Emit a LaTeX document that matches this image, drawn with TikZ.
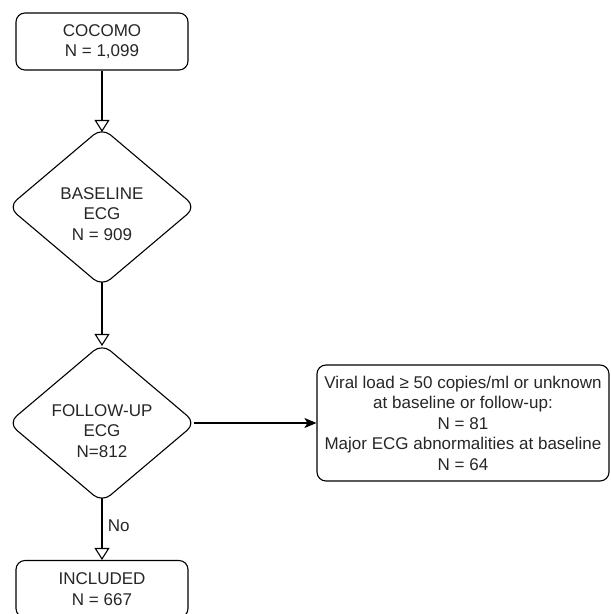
\documentclass[tikz,border=0pt]{standalone}
\usepackage{fontspec}
\setmainfont{Liberation Sans}
\usetikzlibrary{shapes.geometric,arrows.meta}
\begin{document}
\begin{tikzpicture}[x=1pt,y=-1pt,
  every node/.style={font=\fontsize{17}{20.5}\selectfont, text=black!85},
  rbox/.style={draw, line width=1.1pt, rounded corners=9pt, align=center, inner sep=0pt},
  dec/.style={draw, diamond, line width=1.1pt, rounded corners=11pt, inner sep=0pt, minimum width=188pt, minimum height=159pt},
  dectext/.style={align=center, inner sep=0pt},
  openarr/.style={line width=1.1pt, -{Triangle[open, length=12pt, width=15pt, line width=1.1pt]}},
  fillarr/.style={line width=1.1pt, -{Stealth[length=12pt, width=10pt, inset=3pt]}}]
\useasboundingbox (0,0) rectangle (611,614);
\clip (0,0) rectangle (611,614);
\node[rbox, minimum width=172pt, minimum height=57pt] (cocomo) at (102,41.5) {COCOMO\\N = 1,099};
\node[dec] (base) at (102,207) {};
\node[dectext] (basetext) at (102,214) {BASELINE\\ECG\\N = 909};
\node[dec] (follow) at (102,423) {};
\node[dectext] (followtext) at (102,431) {FOLLOW-UP\\ECG\\N=812};
\node[rbox, minimum width=292pt, minimum height=116pt] (excl) at (463,423) {Viral load ≥ 50 copies/ml or unknown\\at baseline or follow-up:\\N = 81\\Major ECG abnormalities at baseline\\N = 64};
\node[rbox, minimum width=172pt, minimum height=57pt] (incl) at (102,589) {INCLUDED\\N = 667};
\draw[openarr] (cocomo.south) -- ([yshift=-5pt]base.north);
\draw[openarr] ([yshift=5pt]base.south) -- ([yshift=-3pt]follow.north);
\draw[fillarr] ([xshift=-3pt]follow.east) -- (excl.west);
\draw[openarr] ([yshift=5pt]follow.south) -- node[right, xshift=2pt, yshift=3pt] (nolbl) {No} (incl.north);
\end{tikzpicture}
\end{document}
